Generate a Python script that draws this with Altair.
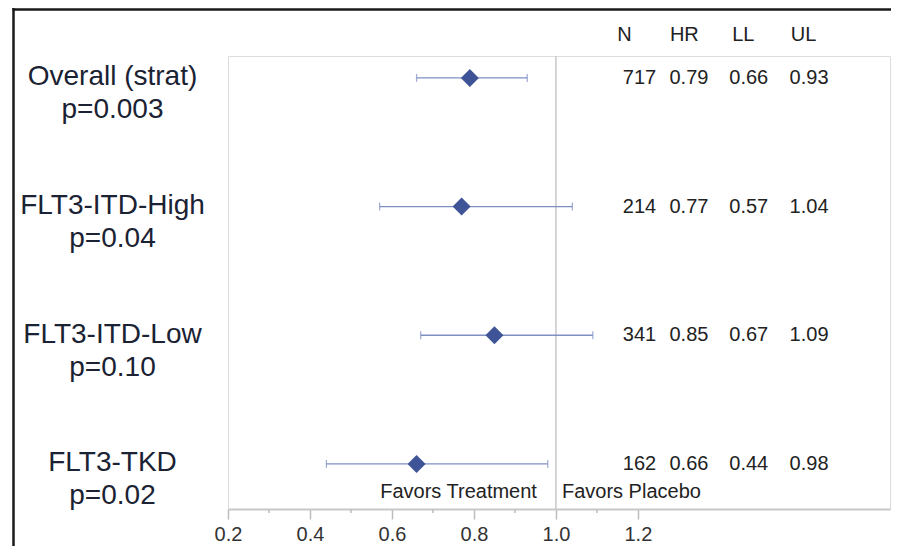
import altair as alt
import pandas as pd

# ---- data ----
groups = ["Overall (strat)", "FLT3-ITD-High", "FLT3-ITD-Low", "FLT3-TKD"]
p_values = ["p=0.003", "p=0.04", "p=0.10", "p=0.02"]
n_values = [717, 214, 341, 162]
hr_values = [0.79, 0.77, 0.85, 0.66]
ll_values = [0.66, 0.57, 0.67, 0.44]
ul_values = [0.93, 1.04, 1.09, 0.98]
major_ticks = [0.2, 0.4, 0.6, 0.8, 1.0, 1.2]
minor_ticks = [0.3, 0.5, 0.7, 0.9, 1.1]
headers = ["N", "HR", "LL", "UL"]
favors = ["Favors Treatment", "Favors Placebo"]
ref_value = 1.0

# ---- layout constants ----
W, H = 662, 453
FONT = "Liberation Sans"
text_col_x = {"N": 1.2446, "HR": 1.372, "LL": 1.518, "UL": 1.665}   # right edges
header_x = {"N": 1.1495, "HR": 1.278, "LL": 1.43, "UL": 1.573}       # left edges
favors_row = 4.22

df = pd.DataFrame({
    "idx": list(range(1, len(groups) + 1)),
    "group": groups,
    "p": p_values,
    "N": n_values,
    "HR": hr_values,
    "LL": ll_values,
    "UL": ul_values,
})

x_scale = alt.Scale(domain=[0.2, 1.815], nice=False, zero=False)
y_scale = alt.Scale(domain=[0.83, 4.35], reverse=True, nice=False, zero=False)

label_expr = "[" + ",".join(
    "['%s','%s']" % (g, p) for g, p in zip(groups, p_values)
) + "][datum.value - 1]"

x_axis = alt.Axis(
    values=major_ticks, format=".1f", tickSize=10, tickColor="#BDBDBD",
    tickWidth=1.5, domain=True, domainColor="#C8C8C8", domainWidth=2,
    grid=False, labelFontSize=20,
    labelColor="#333333", labelFont=FONT, labelPadding=5,
    labelOverlap=False, labelFlush=False, title=None,
)
y_axis = alt.Axis(
    values=list(range(1, len(groups) + 1)), labelExpr=label_expr,
    ticks=False, tickSize=0, domain=False, grid=False,
    labelAlign="center", labelBaseline="middle", labelPadding=116,
    labelFontSize=28, labelLineHeight=33, labelFont=FONT,
    labelColor="#1A2233", labelOffset=-1, labelOverlap=False,
    labelFlush=False, labelBound=False, labelLimit=400, title=None,
)

X = lambda f: alt.X(f, type="quantitative", scale=x_scale, axis=x_axis)
Y = alt.Y("idx:Q", scale=y_scale, axis=y_axis)

base = alt.Chart(df)

bars = base.mark_rule(color="#7F8FC4", strokeWidth=1.3).encode(
    x=X("LL"), x2="UL", y=Y
)
caps = base.transform_fold(["LL", "UL"], as_=["end", "val"]).mark_tick(
    orient="vertical", size=8, thickness=1.3, color="#7F8FC4"
).encode(x=X("val"), y=Y)
points = base.mark_point(
    shape="diamond", filled=True, size=324, color="#3F5497", opacity=1
).encode(x=X("HR"), y=Y)

ref = alt.Chart(pd.DataFrame({"v": [ref_value]})).mark_rule(
    color="#C8C8C8", strokeWidth=1.5
).encode(x=X("v"))

minor = alt.Chart(pd.DataFrame({"v": minor_ticks})).mark_rule(
    color="#BDBDBD", strokeWidth=1.5
).encode(x=X("v"), y=alt.value(H), y2=alt.value(H + 4))

cols = []
for c in headers:
    fmt = "d" if c == "N" else ".2f"
    cols.append(
        base.mark_text(align="right", baseline="middle", font=FONT,
                       fontSize=20, color="#222222").encode(
            x=alt.XDatum(text_col_x[c], type="quantitative", scale=x_scale, axis=x_axis),
            y=Y,
            text=alt.Text(c, type="quantitative", format=fmt),
        )
    )
    cols.append(
        alt.Chart(pd.DataFrame({"h": [c]})).mark_text(
            align="left", baseline="middle", font=FONT, fontSize=20,
            color="#222222").encode(
            x=alt.XDatum(header_x[c], type="quantitative", scale=x_scale, axis=x_axis),
            y=alt.value(-21),
            text="h:N",
        )
    )

fav_df = pd.DataFrame({"t": favors, "row": [favors_row, favors_row]})
fav_left = alt.Chart(fav_df).transform_filter(alt.datum.t == favors[0]).mark_text(
    align="right", baseline="middle", dx=-19, font=FONT, fontSize=20, color="#222222"
).encode(
    x=alt.XDatum(ref_value, type="quantitative", scale=x_scale, axis=x_axis),
    y=alt.Y("row:Q", scale=y_scale, axis=y_axis), text="t:N",
)
fav_right = alt.Chart(fav_df).transform_filter(alt.datum.t == favors[1]).mark_text(
    align="left", baseline="middle", dx=6, font=FONT, fontSize=20, color="#222222"
).encode(
    x=alt.XDatum(ref_value, type="quantitative", scale=x_scale, axis=x_axis),
    y=alt.Y("row:Q", scale=y_scale, axis=y_axis), text="t:N",
)

# outer black frame (decoration)
frame_left = alt.Chart(pd.DataFrame({"a": [0]})).mark_rule(
    color="#1A1A1A", strokeWidth=2.5
).encode(x=alt.value(-214.5), y=alt.value(-48), y2=alt.value(H + 40))
frame_top = alt.Chart(pd.DataFrame({"a": [0]})).mark_rule(
    color="#1A1A1A", strokeWidth=2.5
).encode(x=alt.value(-215.5), x2=alt.value(W + 1), y=alt.value(-46.5))

chart = alt.layer(
    ref, minor, bars, caps, points, *cols, fav_left, fav_right,
    frame_left, frame_top,
).properties(
    width=W, height=H,
    autosize=alt.AutoSizeParams(type="none"),
    padding={"left": 220, "top": 48, "right": 1, "bottom": 37},
).configure_view(
    stroke="#C8C8C8", strokeWidth=2
).configure(background="white")

chart.save("out.html", embed_options={"renderer": "svg", "actions": False})
